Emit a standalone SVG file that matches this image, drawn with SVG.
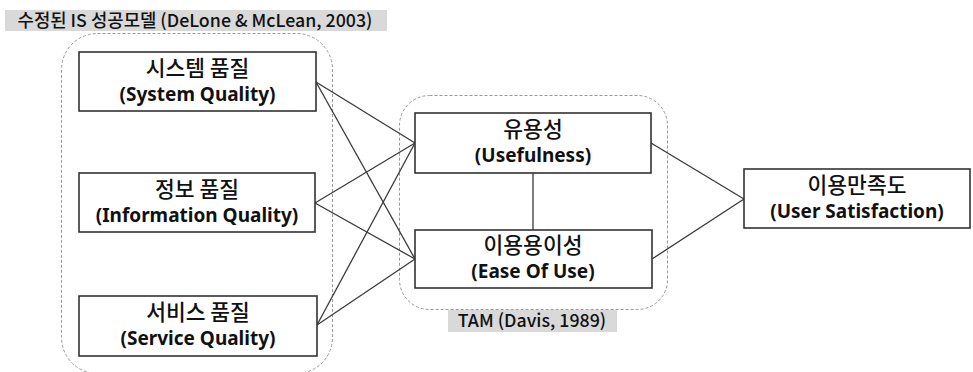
<svg xmlns="http://www.w3.org/2000/svg" width="973" height="372" viewBox="0 0 973 372">
<style>
.bg{fill:#ffffff}
.box{fill:#ffffff;stroke:#333333;stroke-width:1.6}
.cont{fill:none;stroke:#9a9a9a;stroke-width:1;stroke-dasharray:3 2}
.lbl{fill:#d9d9d9}
.kr{font-family:"Noto Sans CJK KR","Noto Sans",sans-serif;font-size:21.5px;font-weight:500;fill:#111111;text-anchor:middle}
.en{font-family:"Noto Sans","Noto Sans CJK KR",sans-serif;font-weight:bold;font-size:19px;fill:#111111;text-anchor:middle}
.hd{font-family:"Noto Sans CJK KR","Noto Sans",sans-serif;font-size:17.8px;font-weight:500;fill:#111111;text-anchor:middle}
.conn line{stroke:#3a3a3a;stroke-width:1.3}
</style>
<rect class="bg" x="0" y="0" width="973" height="372"/>
<g id="is-model-group">
<rect class="cont" x="61.5" y="33.5" width="271" height="340" rx="36"/>
<rect class="lbl" x="5" y="10" width="382" height="21"/>
<text class="hd" x="195" y="27">수정된 IS 성공모델 (DeLone &amp; McLean, 2003)</text>
</g>
<g id="tam-group">
<rect class="cont" x="399.5" y="95.5" width="268" height="214" rx="30"/>
<rect class="lbl" x="448" y="310" width="169" height="22"/>
<text class="hd" x="532" y="327">TAM (Davis, 1989)</text>
</g>
<g class="conn" id="connectors">
<line x1="316" y1="82" x2="415" y2="143"/>
<line x1="316" y1="82" x2="415" y2="259"/>
<line x1="315" y1="203" x2="415" y2="143"/>
<line x1="315" y1="203" x2="415" y2="259"/>
<line x1="317" y1="325" x2="415" y2="143"/>
<line x1="317" y1="325" x2="415" y2="259"/>
<line x1="533" y1="173" x2="533" y2="230"/>
<line x1="651" y1="143" x2="744" y2="199"/>
<line x1="652" y1="259" x2="744" y2="199"/>
</g>
<g id="system-quality">
<rect class="box" x="79" y="52" width="237" height="59"/>
<text class="kr" x="197.5" y="76">시스템 품질</text>
<text class="en" x="197.5" y="101">(System Quality)</text>
</g>
<g id="information-quality">
<rect class="box" x="79" y="173" width="236" height="59"/>
<text class="kr" x="197" y="197">정보 품질</text>
<text class="en" x="197" y="222">(Information Quality)</text>
</g>
<g id="service-quality">
<rect class="box" x="79" y="296" width="238" height="60"/>
<text class="kr" x="198" y="320">서비스 품질</text>
<text class="en" x="198" y="345">(Service Quality)</text>
</g>
<g id="usefulness">
<rect class="box" x="415" y="113" width="236" height="60"/>
<text class="kr" x="533" y="137">유용성</text>
<text class="en" x="533" y="162">(Usefulness)</text>
</g>
<g id="ease-of-use">
<rect class="box" x="415" y="230" width="237" height="58"/>
<text class="kr" x="533" y="253">이용용이성</text>
<text class="en" x="533" y="278">(Ease Of Use)</text>
</g>
<g id="user-satisfaction">
<rect class="box" x="744" y="169" width="226" height="59"/>
<text class="kr" x="857" y="193">이용만족도</text>
<text class="en" x="857" y="218">(User Satisfaction)</text>
</g>
</svg>
